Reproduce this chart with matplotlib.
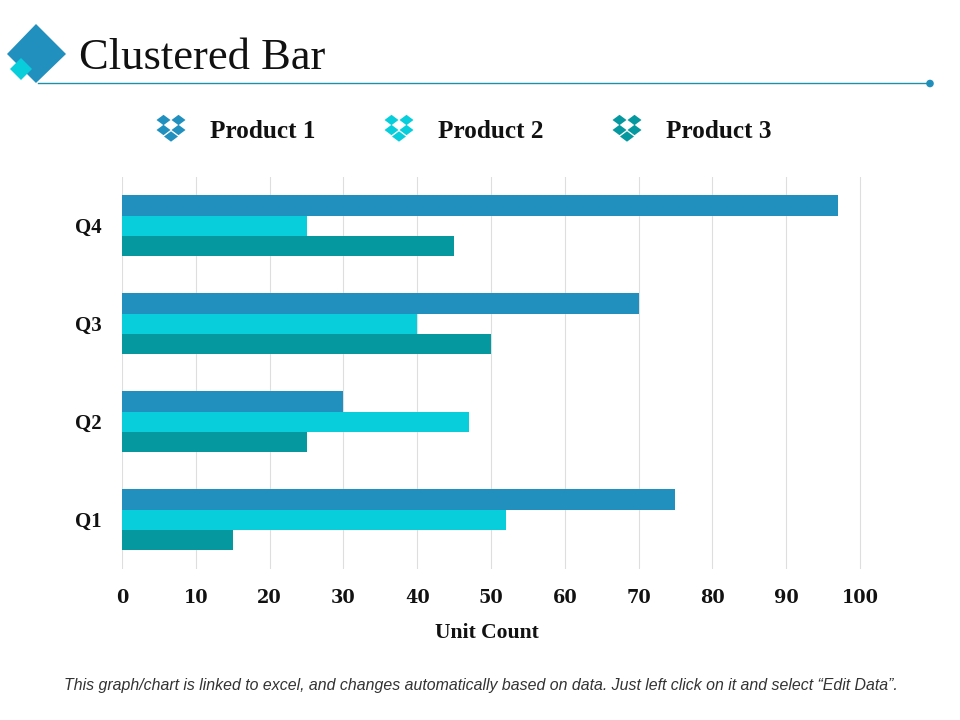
import matplotlib
matplotlib.use("Agg")
import matplotlib.pyplot as plt
import numpy as np
from matplotlib.patches import Polygon, Circle
from matplotlib.lines import Line2D

categories = ["Q1", "Q2", "Q3", "Q4"]
series_names = ["Product 1", "Product 2", "Product 3"]
product_1 = [75, 30, 70, 97]
product_2 = [52, 47, 40, 25]
product_3 = [15, 25, 50, 45]
colors = ["#2190BE", "#08CEDC", "#05989F"]
x_ticks = list(range(0, 101, 10))

W, H = 960, 720
fig = plt.figure(figsize=(W / 100, H / 100), dpi=100, facecolor="white")
serif = "Liberation Serif"

ax = fig.add_axes([122 / W, 1 - 568.8 / H, (932 - 122) / W, 392 / H])
y = np.arange(len(categories))
h = 0.2075
for vals, off, c in zip([product_1, product_2, product_3], [h, 0, -h], colors):
    ax.barh(y + off, vals, height=h, color=c, zorder=3, linewidth=0)
ax.set_xlim(0, (932 - 122) / 7.38)
ax.set_ylim(-0.5, 3.5)
ax.set_xticks(x_ticks)
ax.set_yticks(y, categories)
ax.grid(axis="x", color="#DEDEDE", linewidth=0.8, zorder=0)
ax.tick_params(length=0)
ax.tick_params(axis="x", pad=14.2)
ax.tick_params(axis="y", pad=14.4)
for s in ax.spines.values():
    s.set_visible(False)
for t in ax.get_yticklabels():
    t.set_fontfamily(serif)
    t.set_fontweight("bold")
    t.set_fontsize(15)
    t.set_color("#111111")
for t in ax.get_xticklabels():
    t.set_fontfamily("DejaVu Serif")
    t.set_fontweight("bold")
    t.set_fontsize(12.8)
    t.set_color("#111111")

# overlay in pixel coordinates for page furniture
ov = fig.add_axes([0, 0, 1, 1], zorder=5)
ov.set_xlim(0, W)
ov.set_ylim(H, 0)
ov.axis("off")

ov.text(487, 632.5, "Unit Count", ha="center", va="center", family=serif,
        fontweight="bold", fontsize=15.6, color="#111111")

# header
ov.add_patch(Polygon([(36, 24), (66, 54), (36, 83), (7, 54)], closed=True, color=colors[0], lw=0))
ov.add_patch(Polygon([(21, 58), (32, 69), (21, 80), (10, 69)], closed=True, color=colors[1], lw=0))
ov.add_line(Line2D([38, 930], [83, 83], color="#1E8FA8", lw=1))
ov.add_patch(Circle((930, 83.5), 3.8, color=colors[0], lw=0))
ov.text(79, 58, "Clustered Bar", ha="left", va="center", family=serif, fontsize=32, color="#111111")

# legend
def box_icon(cx, cy, c):
    for dx, dy in [(-7.5, -7), (7.5, -7), (-7.5, 3), (7.5, 3), (0, 9.5)]:
        px, py = cx + dx, cy + dy
        ov.add_patch(Polygon([(px, py - 5.2), (px + 7, py), (px, py + 5.2), (px - 7, py)],
                             closed=True, color=c, lw=0))

for name, c, ix, tx in zip(series_names, colors, [171, 399, 627], [210, 438, 666]):
    box_icon(ix, 127, c)
    ov.text(tx, 131, name, ha="left", va="center", family=serif, fontweight="bold",
            fontsize=18.2, color="#111111")

ov.text(481, 685.5, "This graph/chart is linked to excel, and changes automatically based on data. "
        "Just left click on it and select \u201cEdit Data\u201d.", ha="center", va="center",
        family="Liberation Sans", style="italic", fontsize=11.42, color="#333333")

fig.savefig("out.png", dpi=100)
